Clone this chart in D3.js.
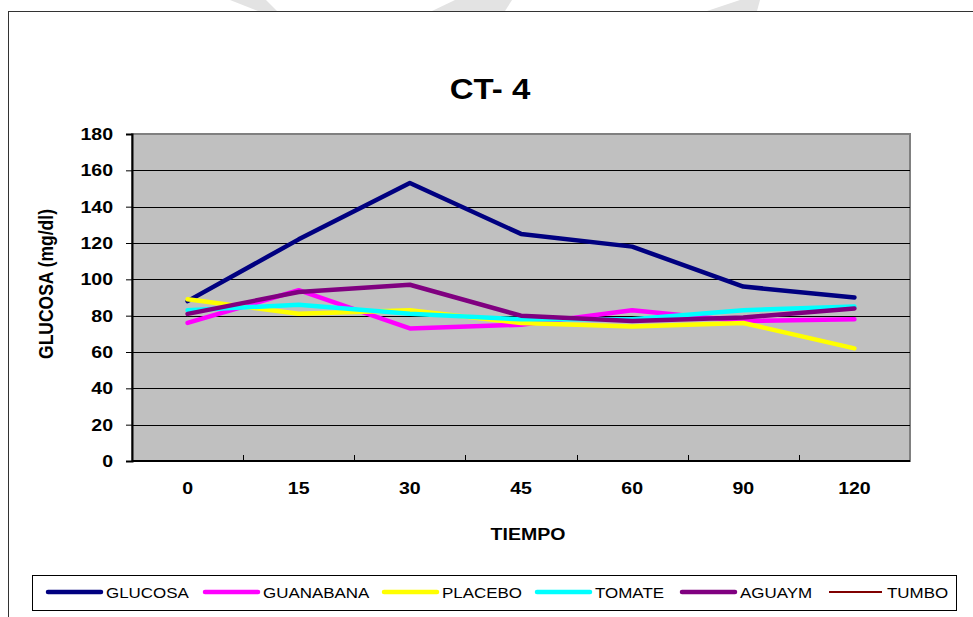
<!DOCTYPE html>
<html>
<head>
<meta charset="utf-8">
<script src="https://cdn.jsdelivr.net/npm/d3@7"></script>
<style>
  body { margin: 0; background: #fff; }
  svg { display: block; font-family: "Liberation Sans", Arial, sans-serif; }
</style>
</head>
<body>
<svg width="973" height="617"></svg>
<script>

var tiempos = ["0", "15", "30", "45", "60", "90", "120"]
var seriesNames = ["GLUCOSA", "GUANABANA", "PLACEBO", "TOMATE", "AGUAYM", "TUMBO"]
var seriesColors = ["#000080", "#FF00FF", "#FFFF00", "#00FFFF", "#800080", "#800000"]

var glucosa   = [88, 122, 153, 125, 118, 96, 90]
var guanabana = [76, 94, 73, 75, 83, 77, 78]
var placebo   = [89, 81, 83, 76, 74, 76, 62]
var tomate    = [83, 86, 81, 78, 78, 83, 85]
var aguaym    = [81, 93, 97, 80, 77, 79, 84]
var tumbo     = []   // only in the legend

var yTicks = [0, 20, 40, 60, 80, 100, 120, 140, 160, 180]

var allSeries = [glucosa, guanabana, placebo, tomate, aguaym, tumbo]

var svg = d3.select("svg"),
    width = +svg.attr("width"),
    height = +svg.attr("height");

var stretch = 1.15   // the picture is a bit wider than tall

var plot = {left: 132, right: 910, top: 134, bottom: 461}

// watermark bits above the chart frame
var wm = [
    [[230, 0], [266, 0], [277, 11], [258, 11]],
    [[455, 0], [512, 0], [505, 11], [432, 11]],
    [[740, 0], [760, 0], [757, 11], [707, 11]]
]
svg.append("g").selectAll("polygon")
    .data(wm)
    .enter().append("polygon")
    .attr("points", function(d) { return d.map(function(p) { return p.join(","); }).join(" "); })
    .attr("fill", "#e3e3e3");

// chart frame (runs off the right and bottom edge)
svg.append("rect")
    .attr("x", 8.5).attr("y", 11.5)
    .attr("width", 980).attr("height", 620)
    .attr("fill", "#fff")
    .attr("stroke", "#333")
    .attr("stroke-width", 1);

var x = d3.scaleBand()
    .domain(tiempos)
    .range([plot.left, plot.right])
    .padding(0);

var y = d3.scaleLinear()
    .domain([0, 180])
    .range([plot.bottom, plot.top]);

// plot background
svg.append("rect")
    .attr("x", plot.left).attr("y", plot.top)
    .attr("width", plot.right - plot.left)
    .attr("height", plot.bottom - plot.top)
    .attr("fill", "#C0C0C0")
    .attr("stroke", "#808080")
    .attr("stroke-width", 2);

// gridlines
svg.append("g")
    .selectAll("line")
    .data(yTicks.filter(function(d) { return d > 0 && d < 180; }))
    .enter().append("line")
    .attr("x1", plot.left).attr("x2", plot.right)
    .attr("y1", function(d) { return Math.round(y(d)) + 0.5; })
    .attr("y2", function(d) { return Math.round(y(d)) + 0.5; })
    .attr("stroke", "#000")
    .attr("stroke-width", 1);

// y axis
var yAxis = d3.axisLeft(y).tickValues(yTicks).tickSize(6).tickFormat("");
var gy = svg.append("g")
    .attr("transform", "translate(" + plot.left + ",0)")
    .call(yAxis);
gy.select(".domain").attr("stroke", "#000").attr("stroke-width", 2);
gy.selectAll(".tick line").attr("stroke", "#000");

svg.append("g").selectAll("text")
    .data(yTicks)
    .enter().append("text")
    .attr("transform", function(d) { return "translate(113," + (y(d) + 6) + ") scale(" + stretch + ",1)"; })
    .attr("text-anchor", "end")
    .attr("font-size", 17)
    .attr("font-weight", "bold")
    .text(function(d) { return d; });

// x axis, ticks between categories pointing up
var xBounds = tiempos.slice(1).map(function(t) { return x(t); });
svg.append("line")
    .attr("x1", plot.left).attr("x2", plot.right)
    .attr("y1", plot.bottom).attr("y2", plot.bottom)
    .attr("stroke", "#000").attr("stroke-width", 2);
svg.append("g").selectAll("line")
    .data(xBounds)
    .enter().append("line")
    .attr("x1", function(d) { return Math.round(d) + 0.5; })
    .attr("x2", function(d) { return Math.round(d) + 0.5; })
    .attr("y1", plot.bottom).attr("y2", plot.bottom - 6)
    .attr("stroke", "#000");

svg.append("g").selectAll("text")
    .data(tiempos)
    .enter().append("text")
    .attr("transform", function(d) { return "translate(" + (x(d) + x.bandwidth() / 2) + ",494) scale(" + stretch + ",1)"; })
    .attr("text-anchor", "middle")
    .attr("font-size", 17)
    .attr("font-weight", "bold")
    .text(function(d) { return d; });

// titles
svg.append("text")
    .attr("transform", "translate(490,99) scale(1.1,1)")
    .attr("text-anchor", "middle")
    .attr("font-size", 30)
    .attr("font-weight", "bold")
    .text("CT- 4");

svg.append("text")
    .attr("transform", "translate(528,540) scale(" + stretch + ",1)")
    .attr("text-anchor", "middle")
    .attr("font-size", 17)
    .attr("font-weight", "bold")
    .text("TIEMPO");

svg.append("text")
    .attr("transform", "translate(53,284) rotate(-90) scale(1," + stretch + ")")
    .attr("text-anchor", "middle")
    .attr("font-size", 17.5)
    .attr("font-weight", "bold")
    .text("GLUCOSA (mg/dl)");

// series lines
var line = d3.line()
    .x(function(d, i) { return x(tiempos[i]) + x.bandwidth() / 2; })
    .y(function(d) { return y(d); });

svg.append("g").selectAll("path")
    .data(allSeries.filter(function(s) { return s.length > 0; }))
    .enter().append("path")
    .attr("d", line)
    .attr("fill", "none")
    .attr("stroke", function(d) { return seriesColors[allSeries.indexOf(d)]; })
    .attr("stroke-width", 4.5)
    .attr("stroke-linejoin", "round")
    .attr("stroke-linecap", "round");

// legend
var legendX = [48, 205, 384, 537, 682, 829]

svg.append("rect")
    .attr("x", 32.5).attr("y", 575.5)
    .attr("width", 924).attr("height", 35)
    .attr("fill", "#fff")
    .attr("stroke", "#000");

var legend = svg.selectAll(".legend")
    .data(seriesNames)
    .enter().append("g")
    .attr("class", "legend")
    .attr("transform", function(d, i) { return "translate(" + legendX[i] + ",592)"; });
legend.append("line")
    .attr("x1", 0).attr("x2", 53)
    .attr("y1", 0).attr("y2", 0)
    .attr("stroke", function(d, i) { return seriesColors[i]; })
    .attr("stroke-width", function(d, i) { return i == 5 ? 2 : 4.5; })
    .attr("stroke-linecap", function(d, i) { return i == 5 ? "butt" : "round"; });
legend.append("text")
    .attr("transform", "translate(58,6) scale(1.13,1)")
    .attr("font-size", 15)
    .text(function(d) { return d; });

</script>
</body>
</html>
